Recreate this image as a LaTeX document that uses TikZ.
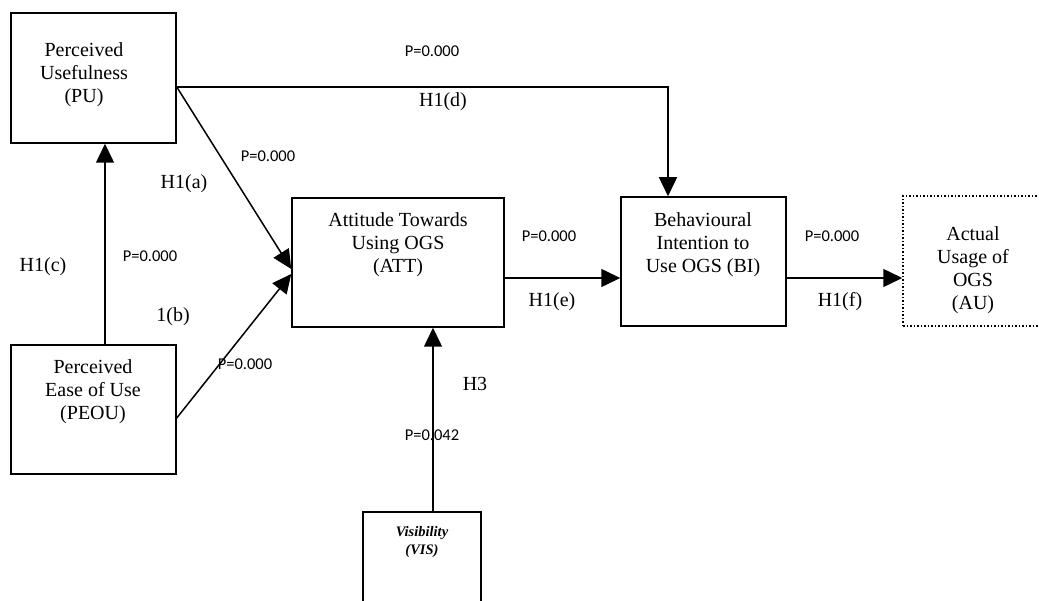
\documentclass[tikz,border=0pt]{standalone}
\usepackage{fontspec}
\setmainfont{Liberation Serif}
\newfontfamily\pfont{Carlito}
\usetikzlibrary{arrows.meta,positioning}
\tikzset{
  box/.style={draw, line width=1.5pt, inner sep=0pt},
  boxtext/.style={align=center, anchor=north, inner sep=0pt, font=\fontsize{20}{23}\selectfont},
  hyp/.style={inner sep=0pt, font=\fontsize{20}{23}\selectfont},
  pval/.style={inner sep=0pt, font=\pfont\fontsize{16.5}{19}\selectfont},
  arr/.style={line width=1.5pt, -{Triangle[length=19pt,width=18pt]}}
}
\begin{document}
\begin{tikzpicture}[x=1pt,y=-1pt]
\useasboundingbox (0,0) rectangle (1039,601);
\clip (0,0) rectangle (1039,601);
% constructs
\node[box, minimum width=165pt, minimum height=130pt] (PU) at (93.5,78) {};
\node[box, minimum width=165pt, minimum height=129pt] (PEOU) at (93.5,409.5) {};
\node[box, minimum width=212pt, minimum height=129pt] (ATT) at (398,262.5) {};
\node[box, minimum width=165pt, minimum height=129pt] (BI) at (703.5,261.5) {};
\node[box, dotted, minimum width=140pt, minimum height=130pt] (AU) at (973,261) {};
\node[box, minimum width=118pt, minimum height=120pt] (VIS) at (422,572) {};
% box texts
\node[boxtext] (PUtxt) at (84,42) {Perceived\\Usefulness\\(PU)};
\node[boxtext] (PEOUtxt) at (93,359) {Perceived\\Ease of Use\\(PEOU)};
\node[boxtext] (ATTtxt) at (398,212) {Attitude Towards\\Using OGS\\(ATT)};
\node[boxtext] (BItxt) at (703,212) {Behavioural\\Intention to\\Use OGS (BI)};
\node[boxtext] (AUtxt) at (973,226) {Actual\\Usage of\\OGS\\(AU)};
\node[boxtext, font=\bfseries\itshape\fontsize{14.5}{18}\selectfont] (VIStxt) at (422,526) {Visibility\\(VIS)};
% paths
\draw[arr] ([xshift=11.5pt]PEOU.north) -- ([xshift=11.5pt]PU.south);
\draw[arr] ([yshift=-9pt]PU.east) -- ([yshift=-6.5pt]ATT.west);
\draw[arr] ([yshift=-8.5pt]PEOU.east) -- ([yshift=-11.5pt]ATT.west);
\draw[arr] ([yshift=-9pt]PU.east) -| ([xshift=-35.5pt]BI.north);
\draw[arr] ([yshift=-15.5pt]ATT.east) -- ([yshift=-15.5pt]ATT.east -| BI.west);
\draw[arr] ([yshift=-16.5pt]BI.east) -- ([yshift=-16.5pt]BI.east -| AU.west);
\draw[arr] ([xshift=11pt]VIS.north) -- ([xshift=11pt]VIS.north |- ATT.south);
% hypotheses and p values
\node[pval] (pPUBI) at (432,51) {P=0.000};
\node[hyp] (hPUBI) at (443,102) {H1(d)};
\node[pval] (pPUATT) at (268,156) {P=0.000};
\node[hyp] (hPUATT) at (184,184) {H1(a)};
\node[hyp] (hPEOUPU) at (43,267) {H1(c)};
\node[pval] (pPEOUPU) at (150,256) {P=0.000};
\node[hyp] (hPEOUATT) at (173,317) {1(b)};
\node[pval] (pPEOUATT) at (245,364) {P=0.000};
\node[pval] (pATTBI) at (549,236) {P=0.000};
\node[hyp] (hATTBI) at (552,302) {H1(e)};
\node[pval] (pBIAU) at (832,236) {P=0.000};
\node[hyp] (hBIAU) at (840,302) {H1(f)};
\node[hyp] (hVIS) at (475,384) {H3};
\node[pval] (pVIS) at (432,435) {P=0.042};
\end{tikzpicture}
\end{document}
